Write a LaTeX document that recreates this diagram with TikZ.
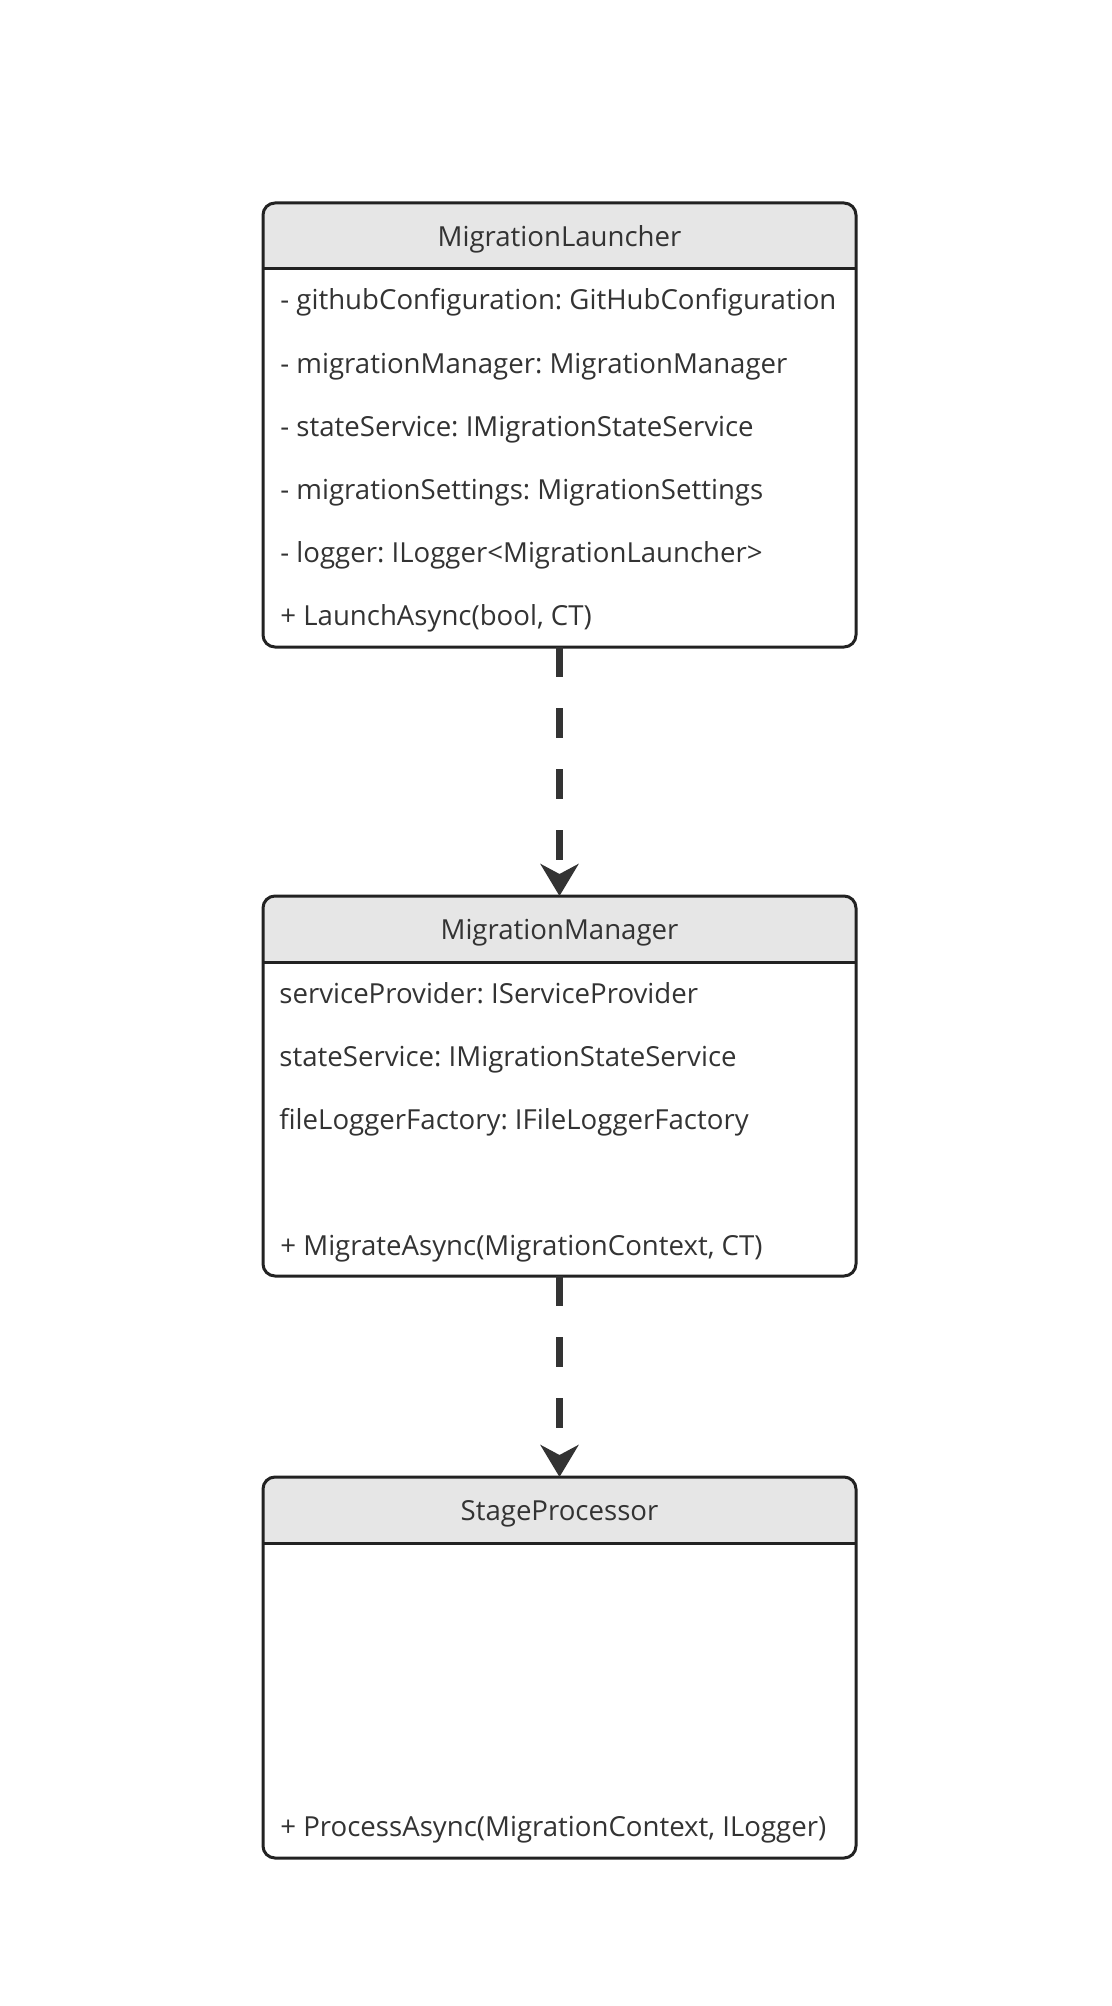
\documentclass[tikz,border=0pt]{standalone}
\usepackage{fontspec}
\setmainfont{Open Sans}
\usepackage{xcolor}
\usepackage{tikz}
\usetikzlibrary{arrows.meta}

\definecolor{headgray}{HTML}{E6E6E6}
\definecolor{linegray}{HTML}{222222}
\definecolor{textgray}{HTML}{333333}

\tikzset{
  classbox/.style={draw=linegray, line width=1.5pt, rounded corners=6pt, inner sep=0pt, outer sep=0pt,
    minimum width=296.5pt,
    path picture={
      \fill[headgray, sharp corners] (path picture bounding box.north west) rectangle ([yshift=-33pt]path picture bounding box.north east);
      \draw[linegray, line width=1.5pt] ([yshift=-33pt]path picture bounding box.north west) -- ([yshift=-33pt]path picture bounding box.north east);
    }},
  classname/.style={anchor=north, minimum height=33pt, inner sep=0pt, yshift=-1.5pt, font=\fontsize{13.8}{16}\selectfont, text=textgray},
  member/.style={anchor=base west, inner sep=0pt, font=\fontsize{13.8}{16}\selectfont, text=textgray},
  uses/.style={draw=textgray, line width=3.5pt, dash pattern=on 15pt off 15.5pt,
    -{Stealth[length=16pt, width=19pt, inset=5pt]}}
}

\begin{document}
\frenchspacing
\begin{tikzpicture}[x=0.5pt, y=-0.5pt]
                    \useasboundingbox (0,0) rectangle (1112,2006);

                    \node[classbox, minimum height=222pt] (launcher) at (559.5,425) {};
                    \node[classname] (launcher name) at (launcher.north) {MigrationLauncher};
                    \node[member] (launcher m1) at (280,310) {- githubConfiguration: GitHubConfiguration};
                    \node[member] (launcher m2) at (280,373) {- migrationManager: MigrationManager};
                    \node[member] (launcher m3) at (280,436) {- stateService: IMigrationStateService};
                    \node[member] (launcher m4) at (280,499) {- migrationSettings: MigrationSettings};
                    \node[member] (launcher m5) at (280,562) {- logger: ILogger<MigrationLauncher>};
                    \node[member] (launcher m6) at (280,625) {+ LaunchAsync(bool, CT)};

                    \node[classbox, minimum height=190pt] (manager) at (559.5,1086) {};
                    \node[classname] (manager name) at (manager.north) {MigrationManager};
                    \node[member] (manager m1) at (279,1003) {serviceProvider: IServiceProvider};
                    \node[member] (manager m2) at (279,1066) {stateService: IMigrationStateService};
                    \node[member] (manager m3) at (279,1129) {fileLoggerFactory: IFileLoggerFactory};
                    \node[member] (manager m4) at (280,1255) {+ MigrateAsync(MigrationContext, CT)};

                    \node[classbox, minimum height=190.5pt] (processor) at (559.5,1667.5) {};
                    \node[classname] (processor name) at (processor.north) {StageProcessor};
                    \node[member] (processor m1) at (280,1836) {+ ProcessAsync(MigrationContext, ILogger)};

                    \draw[uses] (launcher.south) -- (manager.north);
                    \draw[uses] (manager.south) -- (processor.north);
                 \end{tikzpicture}
\end{document}
